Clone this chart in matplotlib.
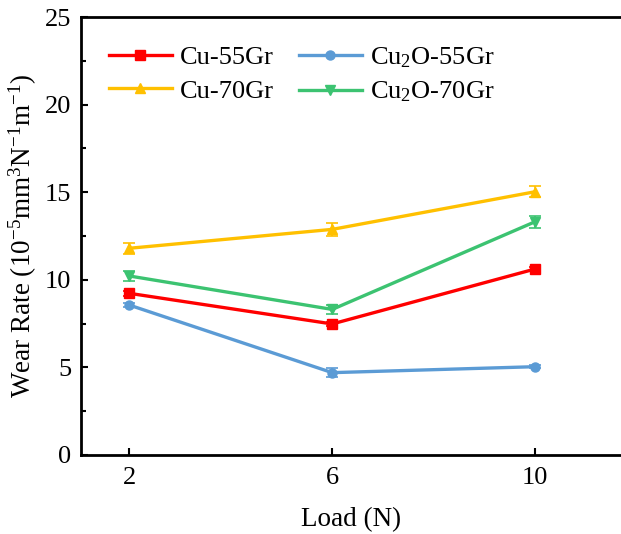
import numpy as np
import matplotlib
matplotlib.use('Agg')
import matplotlib.pyplot as plt
from matplotlib.ticker import MultipleLocator

plt.rcParams['font.family'] = ['Liberation Serif', 'DejaVu Serif']
plt.rcParams['mathtext.fontset'] = 'custom'
plt.rcParams['mathtext.rm'] = 'Liberation Serif'
plt.rcParams['mathtext.it'] = 'Liberation Serif'

load = [2, 6, 10]

cu55 = [9.23, 7.48, 10.62]
cu55_err = [0.15, 0.12, 0.12]
cu2o55 = [8.56, 4.70, 5.04]
cu2o55_err = [0.1, 0.25, 0.1]
cu70 = [11.8, 12.88, 15.03]
cu70_err = [0.3, 0.35, 0.3]
cu2o70 = [10.22, 8.31, 13.32]
cu2o70_err = [0.3, 0.25, 0.35]

labels = ['Cu-55Gr', 'Cu$_2$O-55Gr', 'Cu-70Gr', 'Cu$_2$O-70Gr']
colors = ['#FF0000', '#5B9BD5', '#FFC000', '#3CC371']
markers = ['s', 'o', '^', 'v']

fig = plt.figure(figsize=(6.21, 5.34), dpi=100)
ax = fig.add_axes([0.1304, 0.148, 0.8696, 0.82])

series = [(cu55, cu55_err), (cu2o55, cu2o55_err), (cu70, cu70_err), (cu2o70, cu2o70_err)]
handles = []
for (vals, err), lab, c, m in zip(series, labels, colors, markers):
    ax.errorbar(load, vals, yerr=err, color=c, fmt='none',
                capsize=4, elinewidth=1.2, capthick=1.2)
    h, = ax.plot(load, vals, color=c, marker=m, markersize=6.5,
                 linewidth=2.4, label=lab)
    handles.append(h)

ax.set_xlim(1.05, 11.69)
ax.set_ylim(0, 25)
ax.set_xticks(load)
ax.yaxis.set_major_locator(MultipleLocator(5))
ax.yaxis.set_minor_locator(MultipleLocator(2.5))
ax.tick_params(axis='both', direction='in', labelsize=19, width=1.5, length=5)
ax.tick_params(axis='y', which='minor', direction='in', width=1.5, length=3.5)
ax.tick_params(axis='x', pad=9)
ax.tick_params(axis='y', pad=7)
ax.spines['right'].set_visible(False)
for s in ['left', 'bottom', 'top']:
    ax.spines[s].set_linewidth(2)

ax.set_xlabel('Load (N)', fontsize=19.5, labelpad=13)
ax.set_ylabel('Wear Rate (10$^{-5}$mm$^3$N$^{-1}$m$^{-1}$)', fontsize=19.5)

# row-wise legend order like the original
order = [0, 2, 1, 3]
ax.legend([handles[i] for i in order], [labels[i] for i in order],
          ncol=2, frameon=False, fontsize=19, loc='upper left',
          bbox_to_anchor=(0.007, 0.99), handlelength=2.4, labelspacing=0.38,
          columnspacing=0.95, handletextpad=0.3)

fig.savefig('out.png', dpi=100)
